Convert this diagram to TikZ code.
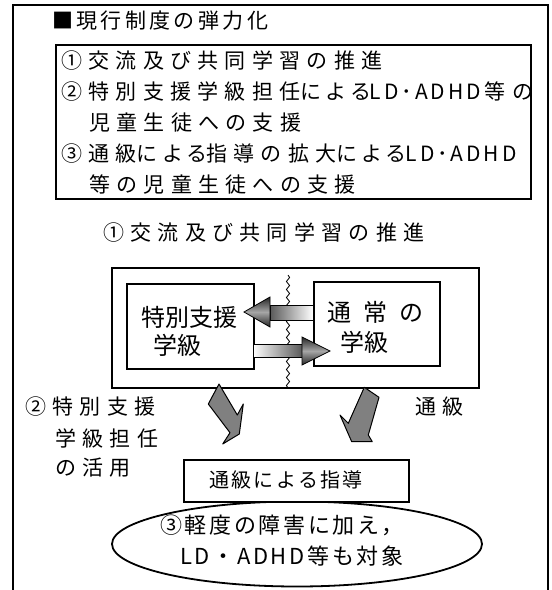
\documentclass[tikz,border=0pt]{standalone}
\usepackage{fontspec}
\setmainfont{Noto Sans CJK JP}
\newfontfamily\jpwide[LetterSpace=30]{Noto Sans CJK JP}
\newfontfamily\jpkana[LetterSpace=30,RawFeature=+palt]{Noto Sans CJK JP}
\newfontfamily\jplat[LetterSpace=14]{Noto Sans CJK JP}
\newfontfamily\jptitle[LetterSpace=16]{Noto Sans CJK JP}
\newfontfamily\jpmid[LetterSpace=12]{Noto Sans CJK JP}
\newfontfamily\jpplain{Noto Sans CJK JP}
\newcommand{\kanas}[1]{{\jpkana #1}}
\newcommand{\latins}[1]{{\jplat #1}\kern4pt}
\usetikzlibrary{decorations.pathmorphing,shapes.geometric}
\tikzset{
  frameline/.style={line width=2pt},
  boxline/.style={draw, line width=1.8pt, inner sep=0pt, anchor=north west},
  wtxt/.style={inner sep=0pt, anchor=west, font=\jpwide\fontsize{21}{21}\selectfont},
  ttxt/.style={inner sep=0pt, anchor=west, font=\jptitle\fontsize{21}{21}\selectfont},
  btxt/.style={inner sep=0pt, font=\jpplain\fontsize{24}{24}\selectfont},
  etxt/.style={inner sep=0pt, anchor=west, font=\jpmid\fontsize{22}{22}\selectfont},
  gtxt/.style={inner sep=0pt, anchor=center, font=\jpmid\fontsize{20}{20}\selectfont},
  downarrow/.style={fill=black!50, draw=black, line width=1pt, line join=round},
  shaft/.style={draw=black, line width=0.8pt},
  head/.style={draw=black, line width=0.8pt},
}
\begin{document}
\begin{tikzpicture}[x=1pt,y=-1pt]
\useasboundingbox (0,0) rectangle (552,590);
% outer frame (open at the bottom)
\coordinate (fbl) at (13,590);
\coordinate (ftl) at (13,5);
\coordinate (ftr) at (548,5);
\coordinate (fbr) at (548,590);
\draw[frameline] (fbl) -- (ftl) -- (ftr) -- (fbr);

% title and list box
\node[ttxt] (title) at (52,21) {■現行制度の弾力化};
\node[boxline, minimum width=475pt, minimum height=154pt] (list) at (55,44) {};
\node[wtxt] (l1) at (61,61) {①交流及び共同学習の推進};
\node[wtxt] (l2) at (61,92) {②特別支援学級担任\kanas{による}\latins{LD･ADHD}等の};
\node[wtxt] (l3) at (89,123) {児童生徒への支援};
\node[wtxt] (l4) at (61,154) {③通級\kanas{による}指導の拡大\kanas{による}\latins{LD･ADHD}};
\node[wtxt] (l5) at (89,185) {等の児童生徒への支援};

% heading
\node[wtxt] (head1) at (103,233) {①交流及び共同学習の推進};

% middle frame with two classes
\node[boxline, minimum width=367pt, minimum height=120pt] (mid) at (111,267) {};
\coordinate (w1) at (288,275);
\coordinate (w2) at (288,388);
\draw[line width=0.8pt, decorate, decoration={snake, amplitude=1.6pt, segment length=8pt}] (w1) -- (w2);
\node[boxline, fill=white, minimum width=127pt, minimum height=85pt] (sp) at (126,283) {};
\node[boxline, fill=white, minimum width=126pt, minimum height=84pt] (rg) at (313,281) {};
\node[btxt] (sp1) at (189,317) {特別支援};
\node[btxt] (sp2) at (177,345) {学級};
\node[btxt] (rg1) at (375,312) {通\kern12pt 常\kern12pt の};
\node[btxt] (rg2) at (364,342) {学級};

% shaded arrows between the classes
\shade[shaft, left color=black!65, right color=white] (270,305) rectangle (313,320);
\shade[head, top color=black!85, bottom color=black!85, middle color=black!35] (270,297) -- (270,327) -- (244,312) -- cycle;
\shade[shaft, left color=white, right color=black!65] (253,344) rectangle (302,357);
\shade[head, top color=black!85, bottom color=black!85, middle color=black!35] (302,337) -- (302,365) -- (330,351) -- cycle;

% grey down arrows
\draw[downarrow] (219,384) -- (208.3,404) -- (230,432.7) -- (222.7,444) -- (239.3,434) -- (243.3,404) -- (237.3,415) -- cycle;
\draw[downarrow] (364.3,387.3) -- (379,397.3) -- (368.3,435) -- (372.3,441.7) -- (351.7,441.7) -- (340,415) -- (348.3,423.3) -- cycle;

% side labels
\node[wtxt] (s1) at (25,407) {②特別支援};
\node[wtxt] (s2) at (55,438) {学級担任};
\node[wtxt] (s3) at (55,468) {の活用};
\node[wtxt] (tk) at (415,407) {通級};

% ellipse and guidance box
\node[ellipse, draw, line width=1.8pt, minimum width=370pt, minimum height=85pt, inner sep=0pt] (ell) at (297,544) {};
\node[boxline, fill=white, minimum width=225pt, minimum height=42pt] (guide) at (183,459) {};
\node[gtxt] (guidet) at (286,480) {通級による指導};
\node[etxt] (e1) at (160,525) {③軽度の障害に加え，};
\node[etxt] (e2) at (180,556) {LD・ADHD等も対象};
\end{tikzpicture}
\end{document}
